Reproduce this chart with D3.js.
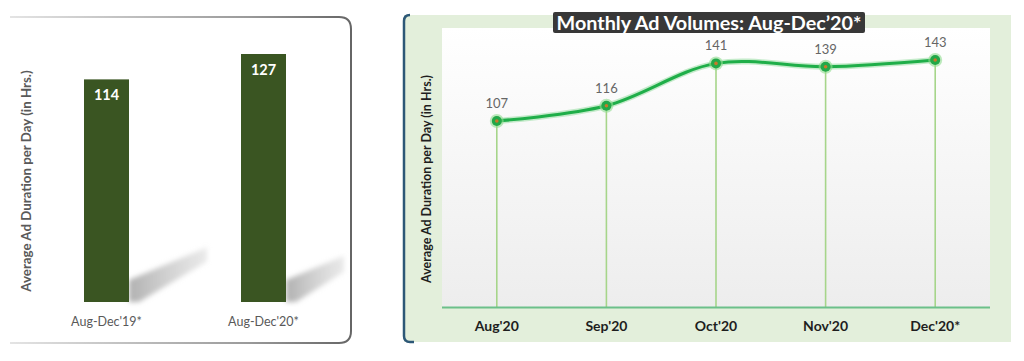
<!DOCTYPE html>
<html>
<head>
<meta charset="utf-8">
<script src="https://cdn.jsdelivr.net/npm/d3@7"></script>
<style>
  html, body { margin: 0; padding: 0; background: #fff; }
  svg { display: block; font-family: Lato, "Open Sans", sans-serif; }
</style>
</head>
<body>
<svg id="chart" width="1024" height="361"></svg>
<script>
// Left panel: period comparison
const periods = ["Aug-Dec'19*", "Aug-Dec'20*"];
const periodValues = [114, 127];

// Right panel: monthly volumes
const months = ["Aug'20", "Sep'20", "Oct'20", "Nov'20", "Dec'20*"];
const monthValues = [107, 116, 141, 139, 143];

const yTitle = "Average Ad Duration per Day (in Hrs.)";
const lineTitle = "Monthly Ad Volumes: Aug-Dec\u201920*";

const svg = d3.select('#chart');
const defs = svg.append('defs');

// ---------- Left panel ----------
const frameGrad = defs.append('linearGradient').attr('id', 'frame-grad')
    .attr('x1', '0%').attr('x2', '100%');
frameGrad.append('stop').attr('offset', '0%').attr('stop-color', '#e4e4e4');
frameGrad.append('stop').attr('offset', '70%').attr('stop-color', '#9a9a9a');
frameGrad.append('stop').attr('offset', '100%').attr('stop-color', '#666');

svg.append('path')
    .attr('d', 'M10,17 L339,17 Q351,17 351,29 L351,331 Q351,343 339,343 L10,343')
    .attr('fill', 'none')
    .attr('stroke', 'url(#frame-grad)')
    .attr('stroke-width', 2);

const xBar = d3.scalePoint().domain(periods).range([28, 342]).padding(0.5);
const yBar = d3.scaleLinear().domain([0, 127]).range([302, 54]);
const barW = 45;

// soft shadows
const shGrad = defs.append('linearGradient').attr('id', 'shadow-grad')
    .attr('x1', '0%').attr('x2', '100%');
shGrad.append('stop').attr('offset', '0%').attr('stop-color', '#a8a8a8').attr('stop-opacity', 0.9);
shGrad.append('stop').attr('offset', '100%').attr('stop-color', '#d4d4d4').attr('stop-opacity', 0.5);
defs.append('filter').attr('id', 'blur').append('feGaussianBlur').attr('stdDeviation', 2.5);

const shadowLen = [78, 58];
svg.append('g').selectAll('polygon')
    .data(periods)
    .join('polygon')
    .attr('points', (d, i) => {
        const x0 = xBar(d) + barW / 2, y0 = yBar(0);
        const L = shadowLen[i];
        return [[x0, y0], [x0, y0 - 22], [x0 + L, y0 - 22 - L * 0.42], [x0 + L, y0 - L * 0.52], [x0 + 10, y0]]
            .map(p => p.join(',')).join(' ');
    })
    .attr('fill', 'url(#shadow-grad)')
    .attr('filter', 'url(#blur)');

svg.append('g').selectAll('rect')
    .data(periods)
    .join('rect')
    .attr('x', d => xBar(d) - barW / 2)
    .attr('y', (d, i) => yBar(periodValues[i]))
    .attr('width', barW)
    .attr('height', (d, i) => yBar(0) - yBar(periodValues[i]))
    .attr('fill', '#3a5522');

svg.append('g').selectAll('text')
    .data(periods)
    .join('text')
    .attr('x', d => xBar(d))
    .attr('y', (d, i) => yBar(periodValues[i]) + 21)
    .attr('text-anchor', 'middle')
    .attr('fill', '#fff')
    .attr('font-weight', 'bold')
    .attr('font-size', 14.5)
    .text((d, i) => periodValues[i]);

svg.append('g').selectAll('text')
    .data(periods)
    .join('text')
    .attr('x', d => xBar(d))
    .attr('y', 326)
    .attr('text-anchor', 'middle')
    .attr('fill', '#595959')
    .attr('font-size', 12.5)
    .text(d => d);

svg.append('text')
    .attr('transform', 'translate(31,181) rotate(-90)')
    .attr('text-anchor', 'middle')
    .attr('fill', '#595959')
    .attr('font-weight', 'bold')
    .attr('font-size', 13.3)
    .text(yTitle);

// ---------- Right panel ----------
svg.append('rect')
    .attr('x', 404).attr('y', 15)
    .attr('width', 607).attr('height', 327)
    .attr('fill', '#e3efdb');

svg.append('path')
    .attr('d', 'M410,15 Q404,15 404,21 L404,336 Q404,342 410,342 L414,342')
    .attr('fill', 'none')
    .attr('stroke', '#2d5877')
    .attr('stroke-width', 2.5);

const plotGrad = defs.append('linearGradient').attr('id', 'plot-grad')
    .attr('x1', '0%').attr('y1', '0%').attr('x2', '0%').attr('y2', '100%');
plotGrad.append('stop').attr('offset', '0%').attr('stop-color', '#ffffff');
plotGrad.append('stop').attr('offset', '100%').attr('stop-color', '#ededed');

const x = d3.scalePoint().domain(months).range([442, 990]).padding(0.5);
const y = d3.scaleLinear().domain([-3, 143]).range([307.5, 60]);

svg.append('rect')
    .attr('x', 442).attr('y', 28)
    .attr('width', 548).attr('height', y(-3) - 28)
    .attr('fill', 'url(#plot-grad)');

// drop lines
svg.append('g').selectAll('line')
    .data(months)
    .join('line')
    .attr('x1', d => x(d)).attr('x2', d => x(d))
    .attr('y1', (d, i) => y(monthValues[i]))
    .attr('y2', y(-3))
    .attr('stroke', '#a6d58a')
    .attr('stroke-width', 1.6);

// baseline
svg.append('line')
    .attr('x1', 442).attr('x2', 990)
    .attr('y1', y(-3)).attr('y2', y(-3))
    .attr('stroke', '#6cc08a')
    .attr('stroke-width', 2.2);

const line = d3.line()
    .x((d, i) => x(months[i]))
    .y(d => y(d))
    .curve(d3.curveCatmullRom.alpha(0.5));

svg.append('path')
    .datum(monthValues)
    .attr('d', line)
    .attr('fill', 'none')
    .attr('stroke', '#9fe0a8')
    .attr('stroke-opacity', 0.6)
    .attr('stroke-width', 6);

svg.append('path')
    .datum(monthValues)
    .attr('d', line)
    .attr('fill', 'none')
    .attr('stroke', '#1fae49')
    .attr('stroke-width', 3);

const pts = svg.append('g').selectAll('g')
    .data(monthValues)
    .join('g')
    .attr('transform', (d, i) => `translate(${x(months[i])},${y(d)})`);
pts.append('circle').attr('r', 7).attr('fill', '#8fdc8f').attr('opacity', 0.6);
pts.append('circle').attr('r', 5).attr('fill', '#22a848');
pts.append('circle').attr('r', 1.8).attr('fill', '#c8782a');

svg.append('g').selectAll('text')
    .data(monthValues)
    .join('text')
    .attr('x', (d, i) => x(months[i]))
    .attr('y', d => y(d) - 13)
    .attr('text-anchor', 'middle')
    .attr('fill', '#666')
    .attr('font-size', 13)
    .text(d => d);

svg.append('g').selectAll('text')
    .data(months)
    .join('text')
    .attr('x', d => x(d))
    .attr('y', 331)
    .attr('text-anchor', 'middle')
    .attr('fill', '#1e1e1e')
    .attr('font-weight', 'bold')
    .attr('font-size', 14)
    .text(d => d);

svg.append('text')
    .attr('transform', 'translate(431,179) rotate(-90)')
    .attr('text-anchor', 'middle')
    .attr('fill', '#1e1e1e')
    .attr('font-weight', 'bold')
    .attr('font-size', 12.5)
    .text(yTitle);

// title badge
svg.append('rect')
    .attr('x', 553).attr('y', 12)
    .attr('width', 312).attr('height', 21)
    .attr('rx', 2)
    .attr('fill', '#383838');

svg.append('text')
    .attr('x', 709).attr('y', 30)
    .attr('text-anchor', 'middle')
    .attr('fill', '#fff')
    .attr('font-weight', 'bold')
    .attr('font-size', 19.8)
    .text(lineTitle);
</script>
</body>
</html>
